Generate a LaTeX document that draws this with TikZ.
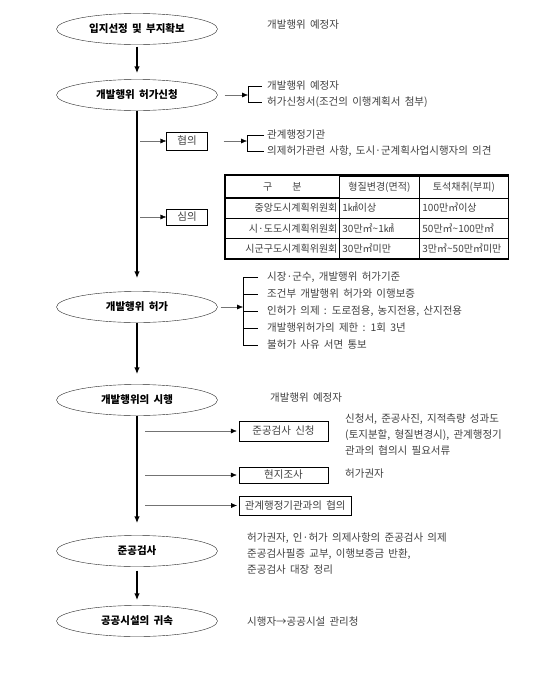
\documentclass[tikz,border=0pt]{standalone}
\usepackage{fontspec}
\setmainfont{Noto Sans CJK KR}[WordSpace=1.8]
\usetikzlibrary{arrows.meta, positioning, shapes.geometric, matrix}
\newcommand{\txtsize}{\fontsize{10.5}{13}\selectfont}

\begin{document}
\begin{tikzpicture}[
  x=1pt, y=-1pt,
  every node/.append style={font=\txtsize},
  stage/.style={ellipse, draw=black!85, thin, minimum width=161, minimum height=31, inner sep=0pt, font=\txtsize\bfseries},
  flow/.style={-{Latex[length=7pt, width=5.5pt]}, line width=1.4pt},
  branch/.style={draw=black!55, thin, -{Latex[length=6pt, width=5pt, color=black]}},
  stepbox/.style={draw, thin, minimum height=18, inner sep=2pt, text=black!75},
  note/.style={anchor=west, inner sep=1pt, text=black!75},
  tick/.style={draw=black, thin}
]
\useasboundingbox (0,0) rectangle (550,675);

% stages
\node[stage] (site) at (137,29) {입지선정 및 부지확보};
\node[stage] (apply) at (137,95) {개발행위 허가신청};
\node[stage] (permit) at (137,307) {개발행위 허가};
\node[stage] (work) at (137,400) {개발행위의 시행};
\node[stage] (check) at (137,551) {준공검사};
\node[stage] (vest) at (137,621) {공공시설의 귀속};

\draw[flow, shorten <=2pt, shorten >=6pt] (site) -- (apply);
\draw[flow, shorten >=13pt] (apply) -- (permit);
\draw[flow, shorten >=10pt] (permit) -- (work);
\draw[flow, shorten >=12pt] (work) -- (check);
\draw[flow, shorten <=4pt, shorten >=5pt] (check) -- (vest);

\node[note] (site1) at (266,25) {개발행위 예정자};

% application
\node[note] (ap1) at (266,86) {개발행위 예정자};
\node[note] (ap2) at (266,102) {허가신청서(조건의 이행계획서 첨부)};
\draw[tick, shorten <=4pt, shorten >=4pt] (ap1.west) -- ++(-18,0) coordinate (apb) |- (ap2.west);
\draw[branch, shorten <=7pt] (apply.east) -- (apply.east -| apb);

% consultation and review
\node[stepbox, minimum width=41] (consult) at (187,141) {협의};
\node[stepbox, minimum width=41, minimum height=16] (review) at (187,217) {심의};
\draw[branch, shorten <=3pt] (apply.south |- consult) -- (consult);
\draw[branch, shorten <=3pt] (apply.south |- review) -- (review);

\node[note] (con1) at (266,135) {관계행정기관};
\node[note] (con2) at (266,151) {의제허가관련 사항, 도시·군계획사업시행자의 의견};
\draw[tick, shorten <=2pt, shorten >=2pt] (con1.west) -- ++(-19,0) coordinate (conb) |- (con2.west);
\draw[branch, shorten <=16pt] (consult.east) -- (consult.east -| conb);

\matrix (tbl) [matrix of nodes, anchor=north west, inner sep=0pt,
  column sep=-0.4pt, row sep=-0.4pt,
  nodes={draw, thin, minimum height=20, inner sep=2pt, text=black!75, font=\fontsize{10}{12}\selectfont},
  column 1/.style={nodes={text width=110, align=right}},
  column 2/.style={nodes={text width=74, inner xsep=3pt, align=left}},
  column 3/.style={nodes={text width=83, inner xsep=3pt, align=left}},
  row 1/.style={nodes={align=center, minimum height=22}}] at (225,175) {
  구\hspace{2em}분 & 형질변경(면적) & 토석채취(부피) \\
  중앙도시계획위원회 & 1㎢이상 & 100만㎥이상 \\
  시·도도시계획위원회 & 30만㎡\textasciitilde 1㎢ & 50만㎥\textasciitilde 100만㎥ \\
  시군구도시계획위원회 & 30만㎡미만 & 3만㎥\textasciitilde 50만㎥미만 \\
};
\draw[line width=1.2pt] (tbl.north west) rectangle (tbl.south east);

% permit
\foreach \txt [count=\i] in {{시장·군수, 개발행위 허가기준}, {조건부 개발행위 허가와 이행보증},
    {인허가 의제 : 도로점용, 농지전용, 산지전용}, {개발행위허가의 제한 : 1회 3년}, {불허가 사유 서면 통보}}
  \node[note] (pm\i) at (266,260+17*\i) {\txt};
\draw[tick, shorten <=8pt, shorten >=8pt] (pm1.west) -- ++(-23,0) coordinate (pmb) |- (pm5.west);
\foreach \i in {2,3,4}
  \draw[tick, shorten >=8pt] (pm\i.west -| pmb) -- (pm\i.west);
\draw[branch, shorten <=3pt] (permit.east) -- (permit.east -| pmb);

% works
\node[note] (work1) at (269,398) {개발행위 예정자};
\node[stepbox, minimum width=89, minimum height=20] (req) at (283.5,431) {준공검사 신청};
\node[stepbox, minimum width=89, minimum height=16] (survey) at (283.5,475) {현지조사};
\node[stepbox, minimum width=112, minimum height=19, anchor=west] (coop) at (239,505.5) {관계행정기관과의 협의};
\foreach \b in {req, survey, coop}
  \draw[branch, shorten <=8pt, shorten >=2pt] (work.south |- \b.west) -- (\b.west);

\node[note, anchor=north west, align=left, font=\fontsize{10.5}{16}\selectfont] (req1) at (344,413)
  {신청서, 준공사진, 지적측량 성과도\\(토지분할, 형질변경시), 관계행정기\\관과의 협의시 필요서류};
\node[note] (survey1) at (344,474) {허가권자};

% completion
\node[note, anchor=north west, align=left, font=\fontsize{10.5}{16}\selectfont] (check1) at (246,532)
  {허가권자, 인·허가 의제사항의 준공검사 의제\\준공검사필증 교부, 이행보증금 반환,\\준공검사 대장 정리};
\node[note] (vest1) at (246,622) {시행자→공공시설 관리청};
\end{tikzpicture}
\end{document}
